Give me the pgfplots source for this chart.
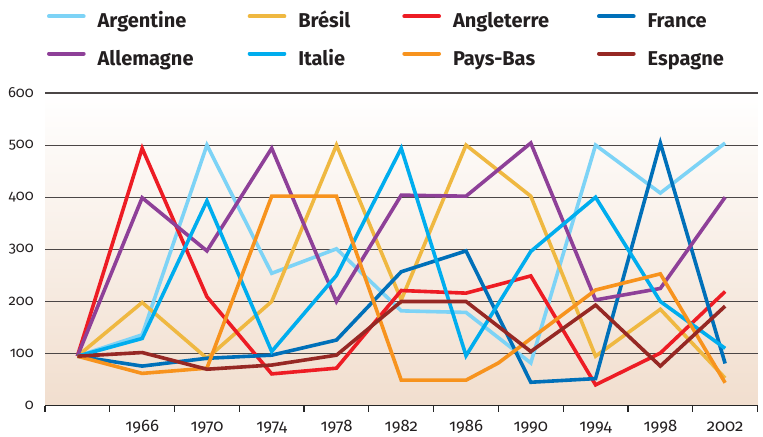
\documentclass[border=0pt]{standalone}
\usepackage{pgfplots}
\pgfplotsset{compat=1.18}
\usepackage{fontspec}
\setmainfont{Fira Sans}
\newfontfamily\tickfont[Numbers={OldStyle,Proportional}]{Fira Sans}

\definecolor{argc}{RGB}{125,211,246}
\definecolor{brec}{RGB}{239,184,65}
\definecolor{angc}{RGB}{237,28,36}
\definecolor{frac}{RGB}{0,112,185}
\definecolor{allc}{RGB}{142,64,152}
\definecolor{itac}{RGB}{0,173,238}
\definecolor{payc}{RGB}{247,147,30}
\definecolor{espc}{RGB}{150,40,36}
\definecolor{bgbot}{RGB}{241,222,206}
\definecolor{gridc}{RGB}{75,70,70}
\definecolor{txtc}{RGB}{35,31,32}

\begin{document}
\begin{tikzpicture}
\useasboundingbox (0,0) rectangle (572.25pt,327pt);
\begin{axis}[
  at={(33.75pt,22.725pt)}, anchor=south west,
  scale only axis, width=534.375pt, height=234.525pt,
  xmin=1960, xmax=2004, ymin=0, ymax=600,
  axis x line*=bottom, axis y line*=left,
  x axis line style={-, line width=1pt, draw=black!85},
  y axis line style={draw=none},
  xtick={1966,1970,...,2002},
  xticklabels={1966,1970,1974,1978,1982,1986,1990,1994,1998,2002},
  minor xtick={1960,1964,...,2004},
  ytick={0,100,...,600},
  yticklabels={0,100,200,300,400,500,600},
  major tick length=0pt, minor tick length=4.5pt, tick align=outside,
  minor tick style={line width=0.9pt, draw=black!85},
  ymajorgrids, grid style={line width=0.8pt, draw=gridc},
  xticklabel style={font=\tickfont\fontsize{12.5}{12.5}\selectfont, anchor=base, inner sep=0pt, yshift=-19.6pt, text=txtc},
  yticklabel style={font=\tickfont\fontsize{11}{11}\selectfont, anchor=east, inner sep=0pt, xshift=-8.25pt, text=txtc},
  axis background/.style={shade, top color=white, bottom color=bgbot},
  every axis plot/.append style={line width=2.7pt, no marks},
  legend columns=4,
  legend cell align=left,
  legend image code/.code={\draw[#1, line width=3pt, line cap=round] (0pt,5pt) -- (26pt,5pt);},
  legend style={draw=none, fill=none, inner sep=0pt, outer sep=0pt,
    at={(0.0028,1.255)}, anchor=north west,
    font=\bfseries\fontsize{15}{15}\selectfont, text=txtc,
    nodes={inner sep=0pt, text height=11pt, text depth=3.5pt},
    column sep=0pt, row sep=13.5pt,
    /tikz/every odd column/.append style={column sep=9pt}},
]
\addplot[argc] coordinates {(1962,95) (1966,136) (1970,500) (1974,254) (1978,301) (1982,182) (1986,179) (1990,82) (1994,500) (1998,408) (2002,504)};
\addlegendentry{\makebox[112.5pt][l]{Argentine}}
\addplot[brec] coordinates {(1962,95) (1966,198) (1970,91) (1974,200) (1978,500) (1982,203) (1986,500) (1990,402) (1994,95) (1998,185) (2002,53)};
\addlegendentry{\makebox[78pt][l]{Brésil}}
\addplot[angc] coordinates {(1962,95) (1966,494) (1970,209) (1974,61) (1978,72) (1982,221) (1986,216) (1990,249) (1994,40) (1998,101) (2002,219)};
\addlegendentry{\makebox[108pt][l]{Angleterre}}
\addplot[frac] coordinates {(1962,95) (1966,76) (1970,91) (1974,97) (1978,126) (1982,257) (1986,297) (1990,45) (1994,52) (1998,504) (2002,81)};
\addlegendentry{France}
\addplot[allc] coordinates {(1962,95) (1966,399) (1970,297) (1974,494) (1978,200) (1982,404) (1986,402) (1990,504) (1994,203) (1998,225) (2002,400)};
\addlegendentry{\makebox[112.5pt][l]{Allemagne}}
\addplot[itac] coordinates {(1962,95) (1966,129) (1970,393) (1974,104) (1978,250) (1982,494) (1986,96) (1990,296) (1994,400) (1998,200) (2002,110)};
\addlegendentry{\makebox[78pt][l]{Italie}}
\addplot[payc] coordinates {(1962,95) (1966,62) (1970,72) (1974,402) (1978,402) (1982,49) (1986,49) (1988,82) (1994,222) (1998,253) (2002,44)};
\addlegendentry{\makebox[108pt][l]{Pays-Bas}}
\addplot[espc] coordinates {(1962,95) (1966,102) (1970,70) (1974,78) (1978,97) (1982,200) (1986,200) (1990,104) (1994,193) (1998,76) (2002,191)};
\addlegendentry{Espagne}
\end{axis}
\end{tikzpicture}
\end{document}
